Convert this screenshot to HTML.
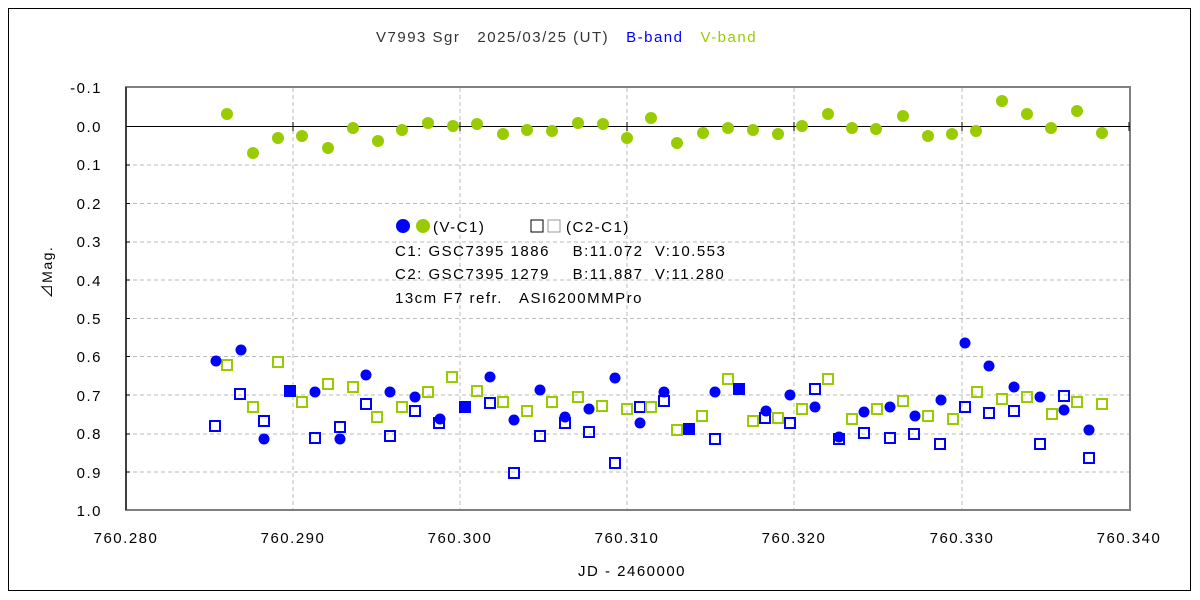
<!DOCTYPE html>
<html><head><meta charset="utf-8"><style>body{margin:0;background:#fff}svg{display:block}text{font-family:"Liberation Sans","Noto Sans CJK JP",sans-serif;white-space:pre;letter-spacing:1.5px}</style></head><body>
<svg width="1200" height="600" xmlns="http://www.w3.org/2000/svg" xml:space="preserve">
<rect x="0" y="0" width="1200" height="600" fill="#fff"/>
<rect x="8.5" y="8.5" width="1182" height="582" fill="none" stroke="#000" stroke-width="1"/>
<g stroke="#bbb" stroke-dasharray="4,3" stroke-width="1">
<line x1="126" y1="165" x2="1130" y2="165"/><line x1="126" y1="203.5" x2="1130" y2="203.5"/><line x1="126" y1="242" x2="1130" y2="242"/><line x1="126" y1="280" x2="1130" y2="280"/><line x1="126" y1="318.5" x2="1130" y2="318.5"/><line x1="126" y1="356.5" x2="1130" y2="356.5"/><line x1="126" y1="395" x2="1130" y2="395"/><line x1="126" y1="434" x2="1130" y2="434"/><line x1="126" y1="472" x2="1130" y2="472"/>
<line x1="293" y1="88" x2="293" y2="510"/><line x1="460" y1="88" x2="460" y2="510"/><line x1="627" y1="88" x2="627" y2="510"/><line x1="794" y1="88" x2="794" y2="510"/><line x1="962" y1="88" x2="962" y2="510"/>
</g>
<rect x="126" y="87" width="1004" height="423" fill="none" stroke="#808080" stroke-width="2"/>
<line x1="126" y1="87" x2="126" y2="510" stroke="#000"/>
<line x1="126" y1="126.5" x2="1130" y2="126.5" stroke="#000"/>
<g stroke="#000"><line x1="293" y1="122" x2="293" y2="131"/><line x1="460" y1="122" x2="460" y2="131"/><line x1="627" y1="122" x2="627" y2="131"/><line x1="794" y1="122" x2="794" y2="131"/><line x1="962" y1="122" x2="962" y2="131"/><line x1="1129" y1="122" x2="1129" y2="131"/>
<line x1="126" y1="165" x2="130" y2="165"/><line x1="126" y1="203.5" x2="130" y2="203.5"/><line x1="126" y1="242" x2="130" y2="242"/><line x1="126" y1="280" x2="130" y2="280"/><line x1="126" y1="318.5" x2="130" y2="318.5"/><line x1="126" y1="356.5" x2="130" y2="356.5"/><line x1="126" y1="395" x2="130" y2="395"/><line x1="126" y1="434" x2="130" y2="434"/><line x1="126" y1="472" x2="130" y2="472"/></g>
<g font-size="15" fill="#000" text-anchor="end">
<text x="102" y="93">-0.1</text><text x="102" y="132">0.0</text><text x="102" y="170">0.1</text><text x="102" y="209">0.2</text><text x="102" y="247">0.3</text><text x="102" y="286">0.4</text><text x="102" y="324">0.5</text><text x="102" y="362">0.6</text><text x="102" y="401">0.7</text><text x="102" y="439">0.8</text><text x="102" y="478">0.9</text><text x="102" y="516">1.0</text></g>
<g font-size="15" fill="#000" text-anchor="middle">
<text x="126" y="543">760.280</text><text x="293" y="543">760.290</text><text x="460" y="543">760.300</text><text x="627" y="543">760.310</text><text x="794" y="543">760.320</text><text x="962" y="543">760.330</text><text x="1129" y="543">760.340</text>
<text x="632" y="576">JD - 2460000</text>
</g>
<text x="376" y="42" font-size="15"><tspan fill="#333">V7993 Sgr   2025/03/25 (UT)   </tspan><tspan fill="#0000ff">B-band   </tspan><tspan fill="#99cc00">V-band</tspan></text>
<text x="52" y="272" font-size="14" text-anchor="middle" transform="rotate(-90 52 272)">⊿Mag.</text>
<g font-size="15" fill="#000">
<circle cx="403" cy="226" r="7" fill="#0000ff"/><circle cx="423" cy="226" r="7" fill="#99cc00"/>
<text x="433" y="232">(V-C1)</text>
<rect x="531" y="220" width="12" height="12" fill="none" stroke="#000"/><rect x="548" y="220" width="12" height="12" fill="none" stroke="#999"/>
<text x="566" y="232">(C2-C1)</text>
<text x="395" y="256">C1: GSC7395 1886    B:11.072  V:10.553</text>
<text x="395" y="279">C2: GSC7395 1279    B:11.887  V:11.280</text>
<text x="395" y="303">13cm F7 refr.   ASI6200MMPro</text>
</g>
<g fill="#99cc00">
<circle cx="227" cy="114" r="6"/><circle cx="253" cy="153" r="6"/><circle cx="278" cy="138" r="6"/><circle cx="302" cy="136" r="6"/><circle cx="328" cy="148" r="6"/><circle cx="353" cy="128" r="6"/><circle cx="378" cy="141" r="6"/><circle cx="402" cy="130" r="6"/><circle cx="428" cy="123" r="6"/><circle cx="453" cy="126" r="6"/><circle cx="477" cy="124" r="6"/><circle cx="503" cy="134" r="6"/><circle cx="527" cy="130" r="6"/><circle cx="552" cy="131" r="6"/><circle cx="578" cy="123" r="6"/><circle cx="603" cy="124" r="6"/><circle cx="627" cy="138" r="6"/><circle cx="651" cy="118" r="6"/><circle cx="677" cy="143" r="6"/><circle cx="703" cy="133" r="6"/><circle cx="728" cy="128" r="6"/><circle cx="753" cy="130" r="6"/><circle cx="778" cy="134" r="6"/><circle cx="802" cy="126" r="6"/><circle cx="828" cy="114" r="6"/><circle cx="852" cy="128" r="6"/><circle cx="876" cy="129" r="6"/><circle cx="903" cy="116" r="6"/><circle cx="928" cy="136" r="6"/><circle cx="952" cy="134" r="6"/><circle cx="976" cy="131" r="6"/><circle cx="1002" cy="101" r="6"/><circle cx="1027" cy="114" r="6"/><circle cx="1051" cy="128" r="6"/><circle cx="1077" cy="111" r="6"/><circle cx="1102" cy="133" r="6"/>
</g>
<g fill="none" stroke="#0000ff" stroke-width="2">
<rect x="210" y="421" width="10" height="10"/><rect x="235" y="389" width="10" height="10"/><rect x="259" y="416" width="10" height="10"/><rect x="310" y="433" width="10" height="10"/><rect x="335" y="422" width="10" height="10"/><rect x="361" y="399" width="10" height="10"/><rect x="385" y="431" width="10" height="10"/><rect x="410" y="406" width="10" height="10"/><rect x="434" y="418" width="10" height="10"/><rect x="485" y="398" width="10" height="10"/><rect x="509" y="468" width="10" height="10"/><rect x="535" y="431" width="10" height="10"/><rect x="560" y="418" width="10" height="10"/><rect x="584" y="427" width="10" height="10"/><rect x="610" y="458" width="10" height="10"/><rect x="635" y="402" width="10" height="10"/><rect x="659" y="396" width="10" height="10"/><rect x="710" y="434" width="10" height="10"/><rect x="760" y="413" width="10" height="10"/><rect x="785" y="418" width="10" height="10"/><rect x="810" y="384" width="10" height="10"/><rect x="834" y="434" width="10" height="10"/><rect x="859" y="428" width="10" height="10"/><rect x="885" y="433" width="10" height="10"/><rect x="909" y="429" width="10" height="10"/><rect x="935" y="439" width="10" height="10"/><rect x="960" y="402" width="10" height="10"/><rect x="984" y="408" width="10" height="10"/><rect x="1009" y="406" width="10" height="10"/><rect x="1035" y="439" width="10" height="10"/><rect x="1059" y="391" width="10" height="10"/><rect x="1084" y="453" width="10" height="10"/>
</g>
<g fill="none" stroke="#99cc00" stroke-width="2">
<rect x="222" y="360" width="10" height="10"/><rect x="248" y="402" width="10" height="10"/><rect x="273" y="357" width="10" height="10"/><rect x="297" y="397" width="10" height="10"/><rect x="323" y="379" width="10" height="10"/><rect x="348" y="382" width="10" height="10"/><rect x="372" y="412" width="10" height="10"/><rect x="397" y="402" width="10" height="10"/><rect x="423" y="387" width="10" height="10"/><rect x="447" y="372" width="10" height="10"/><rect x="472" y="386" width="10" height="10"/><rect x="498" y="397" width="10" height="10"/><rect x="522" y="406" width="10" height="10"/><rect x="547" y="397" width="10" height="10"/><rect x="573" y="392" width="10" height="10"/><rect x="597" y="401" width="10" height="10"/><rect x="622" y="404" width="10" height="10"/><rect x="646" y="402" width="10" height="10"/><rect x="672" y="425" width="10" height="10"/><rect x="697" y="411" width="10" height="10"/><rect x="723" y="374" width="10" height="10"/><rect x="748" y="416" width="10" height="10"/><rect x="773" y="413" width="10" height="10"/><rect x="797" y="404" width="10" height="10"/><rect x="823" y="374" width="10" height="10"/><rect x="847" y="414" width="10" height="10"/><rect x="872" y="404" width="10" height="10"/><rect x="898" y="396" width="10" height="10"/><rect x="923" y="411" width="10" height="10"/><rect x="948" y="414" width="10" height="10"/><rect x="972" y="387" width="10" height="10"/><rect x="997" y="394" width="10" height="10"/><rect x="1022" y="392" width="10" height="10"/><rect x="1047" y="409" width="10" height="10"/><rect x="1072" y="397" width="10" height="10"/><rect x="1097" y="399" width="10" height="10"/>
</g>
<g fill="#0000ff">
<circle cx="216" cy="361" r="5.5"/><circle cx="241" cy="350" r="5.5"/><circle cx="264" cy="439" r="5.5"/><circle cx="315" cy="392" r="5.5"/><circle cx="340" cy="439" r="5.5"/><circle cx="366" cy="375" r="5.5"/><circle cx="390" cy="392" r="5.5"/><circle cx="415" cy="397" r="5.5"/><circle cx="440" cy="419" r="5.5"/><circle cx="490" cy="377" r="5.5"/><circle cx="514" cy="420" r="5.5"/><circle cx="540" cy="390" r="5.5"/><circle cx="565" cy="417" r="5.5"/><circle cx="589" cy="409" r="5.5"/><circle cx="615" cy="378" r="5.5"/><circle cx="640" cy="423" r="5.5"/><circle cx="664" cy="392" r="5.5"/><circle cx="715" cy="392" r="5.5"/><circle cx="766" cy="411" r="5.5"/><circle cx="790" cy="395" r="5.5"/><circle cx="815" cy="407" r="5.5"/><circle cx="839" cy="437" r="5.5"/><circle cx="864" cy="412" r="5.5"/><circle cx="890" cy="407" r="5.5"/><circle cx="915" cy="416" r="5.5"/><circle cx="941" cy="400" r="5.5"/><circle cx="965" cy="343" r="5.5"/><circle cx="989" cy="366" r="5.5"/><circle cx="1014" cy="387" r="5.5"/><circle cx="1040" cy="397" r="5.5"/><circle cx="1064" cy="410" r="5.5"/><circle cx="1089" cy="430" r="5.5"/>
<rect x="284" y="385" width="12" height="12"/><rect x="459" y="401" width="12" height="12"/><rect x="683" y="423" width="12" height="12"/><rect x="733" y="383" width="12" height="12"/>
</g>
</svg>
</body></html>
